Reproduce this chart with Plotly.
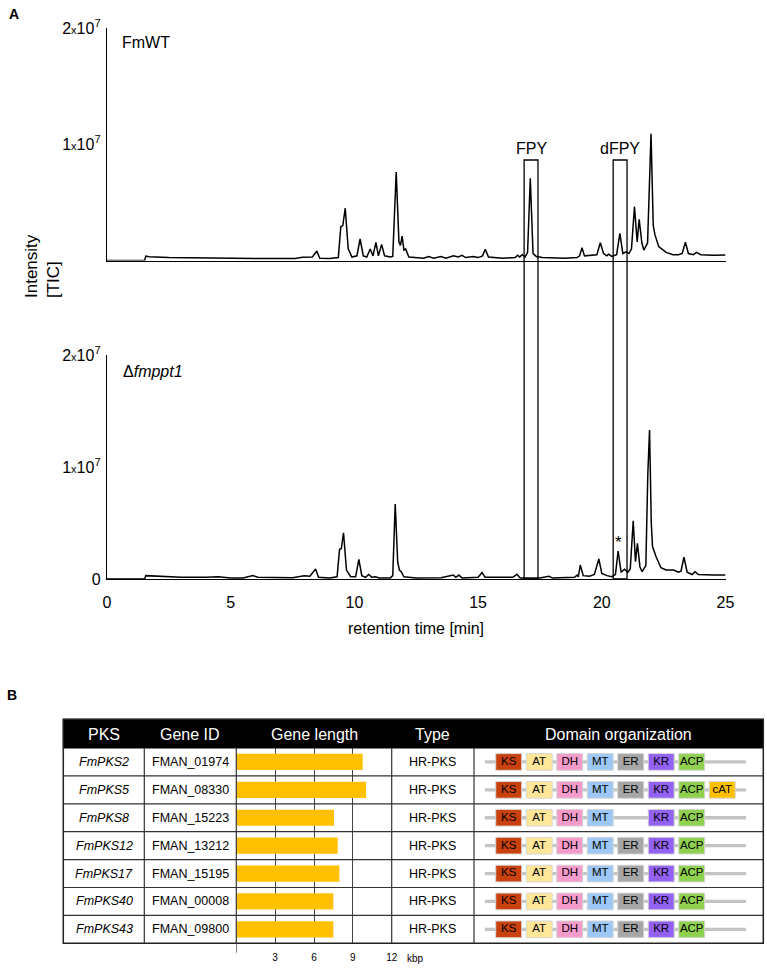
import plotly.graph_objects as go

W, H = 767, 968
def px(x): return x / W
def py(y): return 1 - y / H

FONT = "Arial, Liberation Sans, sans-serif"

# ---------------- Panel A data (intensity in units of 1e6) ----------------
wt_time = [0, 1.52, 1.57, 1.7, 2.5, 4.0, 6.0, 7.6, 7.9, 8.3, 8.48, 8.6, 9.0, 9.35, 9.45, 9.53, 9.63, 9.75,
           9.9, 10.1, 10.23, 10.36, 10.5, 10.64, 10.75, 10.87, 10.97, 11.1, 11.22, 11.45, 11.55, 11.69,
           11.8, 11.86, 11.93, 12.0, 12.07, 12.2, 12.8, 13.0, 13.2, 13.5, 13.7, 14.0, 14.2, 14.35, 14.5,
           14.8, 15.0, 15.18, 15.29, 15.42, 16.0, 16.5, 16.6, 16.68, 16.78, 16.9, 17.0, 17.11, 17.22,
           17.35, 17.6, 18.5, 19.0, 19.1, 19.2, 19.3, 19.6, 19.8, 19.94, 20.07, 20.2, 20.28, 20.4, 20.6,
           20.73, 20.85, 20.98, 21.1, 21.2, 21.32, 21.43, 21.51, 21.62, 21.7, 21.85, 21.99, 22.08, 22.15,
           22.3, 22.6, 22.88, 23.1, 23.25, 23.38, 23.5, 23.7, 23.83, 24.0, 24.5, 25.0]
wt_int = [0, 0, 0.38, 0.33, 0.25, 0.2, 0.18, 0.18, 0.28, 0.3, 0.82, 0.2, 0.18, 0.25, 2.9, 3.0, 4.5, 1.0,
          0.3, 0.4, 1.85, 0.4, 0.3, 0.99, 0.4, 1.56, 0.4, 1.39, 0.4, 0.3, 0.35, 7.6,
          1.6, 1.3, 2.1, 0.9, 1.0, 0.3, 0.2, 0.35, 0.2, 0.35, 0.2, 0.4, 0.3, 0.45, 0.25,
          0.35, 0.25, 0.4, 0.96, 0.3, 0.2, 0.25, 0.45, 0.3, 0.5, 0.3, 0.7, 7.07, 0.6,
          0.35, 0.25, 0.2, 0.25, 0.4, 1.1, 0.4, 0.45, 0.5, 1.53, 0.6, 0.4, 0.55, 0.35, 0.5,
          2.34, 0.6, 0.75, 0.6, 1.0, 4.63, 1.6, 3.54, 1.5, 0.9, 1.5, 10.9, 3.0, 2.2,
          1.2, 0.7, 0.5, 0.5, 0.6, 1.57, 0.6, 0.5, 0.7, 0.5, 0.45, 0.47]

ko_time = [0, 1.52, 1.57, 2.0, 3.0, 4.0, 4.5, 5.0, 5.5, 5.9, 6.1, 7.5, 7.97, 8.2, 8.43, 8.55, 9.0, 9.3,
           9.4, 9.47, 9.56, 9.68, 9.85, 10.05, 10.18, 10.3, 10.45, 10.58, 10.7, 10.85, 11.0, 11.45,
           11.55, 11.65, 11.75, 11.82, 11.89, 12.0, 12.5, 13.5, 14.0, 14.1, 14.22, 14.35, 15.0, 15.16,
           15.28, 16.4, 16.57, 16.7, 17.5, 17.86, 18.0, 18.9, 19.0, 19.05, 19.13, 19.25, 19.5, 19.7,
           19.88, 20.0, 20.21, 20.4, 20.55, 20.66, 20.78, 20.92, 21.05, 21.15, 21.27, 21.36, 21.44,
           21.54, 21.63, 21.78, 21.86, 21.93, 22.0, 22.05, 22.19, 22.39, 22.6, 22.9, 23.1, 23.2, 23.32,
           23.45, 23.65, 23.77, 23.9, 24.5, 25.0]
ko_int = [0, 0, 0.3, 0.25, 0.15, 0.15, 0.2, 0.1, 0.1, 0.3, 0.15, 0.12, 0.3, 0.25, 0.89, 0.15, 0.1, 0.2,
          2.65, 2.7, 4.13, 0.8, 0.2, 0.2, 1.76, 0.3, 0.15, 0.4, 0.15, 0.2, 0.1, 0.1,
          0.3, 6.7, 1.5, 0.8, 0.65, 0.2, 0.1, 0.12, 0.35, 0.15, 0.35, 0.1, 0.15, 0.57,
          0.15, 0.15, 0.42, 0.1, 0.1, 0.25, 0.1, 0.15, 0.35, 0.2, 1.25, 0.3, 0.25, 0.4,
          1.79, 0.5, 0.3, 0.2, 0.4, 2.5, 0.6, 0.87, 0.6, 0.9, 5.2, 1.55, 3.19,
          1.1, 0.65, 1.2, 9.4, 13.3, 5.0, 2.9, 2.0, 1.0, 0.8, 0.8, 0.6, 0.7, 1.94,
          0.6, 0.4, 0.65, 0.4, 0.35, 0.36]

x_ticks = [0, 5, 10, 15, 20, 25]
fpy_window = [16.86, 17.42]
dfpy_window = [20.46, 21.02]
star_time = 20.66

# ---------------- Panel B data ----------------
pks_names = ["FmPKS2", "FmPKS5", "FmPKS8", "FmPKS12", "FmPKS17", "FmPKS40", "FmPKS43"]
gene_ids = ["FMAN_01974", "FMAN_08330", "FMAN_15223", "FMAN_13212", "FMAN_15195", "FMAN_00008", "FMAN_09800"]
gene_len_kbp = [9.76, 10.02, 7.54, 7.83, 7.96, 7.49, 7.49]
pks_types = ["HR-PKS"] * 7
domain_rows = [
    ["KS", "AT", "DH", "MT", "ER", "KR", "ACP"],
    ["KS", "AT", "DH", "MT", "ER", "KR", "ACP", "cAT"],
    ["KS", "AT", "DH", "MT", None, "KR", "ACP"],
    ["KS", "AT", "DH", "MT", "ER", "KR", "ACP"],
    ["KS", "AT", "DH", "MT", "ER", "KR", "ACP"],
    ["KS", "AT", "DH", "MT", "ER", "KR", "ACP"],
    ["KS", "AT", "DH", "MT", "ER", "KR", "ACP"],
]
domain_colors = {"KS": "#C9420E", "AT": "#FFE699", "DH": "#F49BCB", "MT": "#9DC8F5",
                 "ER": "#A6A6A6", "KR": "#9461F5", "ACP": "#8FD14F", "cAT": "#FFC000"}
kbp_ticks = [3, 6, 9, 12]
headers = ["PKS", "Gene ID", "Gene length", "Type", "Domain organization"]

fig = go.Figure()

# chromatograms
fig.add_trace(go.Scatter(x=wt_time, y=wt_int, mode="lines", line=dict(color="black", width=1.5),
                         xaxis="x", yaxis="y", hoverinfo="skip"))
fig.add_trace(go.Scatter(x=ko_time, y=ko_int, mode="lines", line=dict(color="black", width=1.5),
                         xaxis="x2", yaxis="y2", hoverinfo="skip"))

rows = list(range(len(pks_names)))

# gene length bars
fig.add_trace(go.Bar(x=gene_len_kbp, y=rows, orientation="h", xaxis="x3", yaxis="y3",
                     marker=dict(color="#FFC000", line=dict(width=0), opacity=1), width=0.58))

# domain backbone
n_rows = len(domain_rows)
fig.add_trace(go.Bar(x=[8.56] * n_rows, base=[-0.78] * n_rows, y=rows, orientation="h",
                     xaxis="x4", yaxis="y4", width=0.12,
                     marker=dict(color="#C4C4C4", line=dict(width=0), opacity=1)))
# domain boxes
bx, bbase, by, bcol, tx, ty, tt = [], [], [], [], [], [], []
for r, doms in enumerate(domain_rows):
    for s, d in enumerate(doms):
        if d is None:
            continue
        bx.append(0.852); bbase.append(s - 0.426); by.append(r); bcol.append(domain_colors[d])
        tx.append(s); ty.append(r); tt.append(d)
fig.add_trace(go.Bar(x=bx, base=bbase, y=by, orientation="h", xaxis="x4", yaxis="y4", width=0.6,
                     marker=dict(color=bcol, line=dict(color="#D6D6D6", width=1), opacity=1)))
fig.add_trace(go.Scatter(x=tx, y=ty, text=tt, mode="text", xaxis="x4", yaxis="y4",
                         textfont=dict(family=FONT, size=11.5, color="black"), textposition="middle center"))

ax_common = dict(showgrid=False, zeroline=False, ticks="", color="black")
ytxt = lambda v: f"{v}<span style='font-size:11px'>x</span>10<sup>7</sup>"

fig.update_layout(
    autosize=True, margin=dict(l=0, r=0, t=0, b=0, autoexpand=False),
    paper_bgcolor="white", plot_bgcolor="rgba(0,0,0,0)", showlegend=False, barmode="overlay",
    font=dict(family=FONT, color="black"),
    xaxis=dict(domain=[px(107), px(725.5)], range=[0, 25], anchor="y", showline=True, linecolor="black",
               linewidth=1.3, showticklabels=False, **ax_common),
    yaxis=dict(domain=[py(260.5), py(28)], range=[0, 20], anchor="x", showline=True, linecolor="black",
               linewidth=1.3, tickvals=[10, 20], ticktext=[ytxt(1), ytxt(2)],
               tickfont=dict(size=16), ticklabelstandoff=2, **ax_common),
    xaxis2=dict(domain=[px(107), px(725.5)], range=[0, 25], anchor="y2", showline=True, linecolor="black",
                linewidth=1.3, tickvals=x_ticks, tickfont=dict(size=16), ticklabelstandoff=9, **ax_common),
    yaxis2=dict(domain=[py(579), py(355)], range=[0, 20], anchor="x2", showline=True, linecolor="black",
                linewidth=1.3, tickvals=[0, 10, 20], ticktext=["0", ytxt(1), ytxt(2)],
                tickfont=dict(size=16), ticklabelstandoff=2, **ax_common),
    xaxis3=dict(domain=[px(236.3), px(391.7)], range=[0, 12], anchor="y3", showline=False,
                zeroline=False, showgrid=True, gridcolor="#444444", gridwidth=1, tickvals=kbp_ticks,
                ticks="", tickfont=dict(size=10), ticklabelstandoff=7),
    yaxis3=dict(domain=[py(943.3), py(748)], range=[6.5, -0.5], anchor="x3", visible=False),
    xaxis4=dict(domain=[px(474), px(763.3)], range=[-1.138, 8.347], anchor="y4", visible=False),
    yaxis4=dict(domain=[py(943.3), py(748)], range=[6.5, -0.5], anchor="x4", visible=False),
)

shapes = []
# FPY / dFPY windows
for win in (fpy_window, dfpy_window):
    shapes.append(dict(type="rect", xref="x", yref="paper", x0=win[0], x1=win[1], y0=py(579), y1=py(160),
                       line=dict(color="black", width=1.3), fillcolor="rgba(0,0,0,0)"))

# table
TL, TR = px(63.3), px(763.3)
shapes.append(dict(type="rect", xref="paper", yref="paper", x0=TL, x1=TR, y0=py(748), y1=py(719.3),
                   fillcolor="black", line=dict(color="black", width=1)))
for r in rows[:-1]:
    shapes.append(dict(type="line", xref="paper", yref="y3", x0=TL, x1=TR, y0=r + 0.5, y1=r + 0.5,
                       line=dict(color="#333333", width=1.2)))
for xv in (144.3, 236.3, 391.7, 474):
    shapes.append(dict(type="line", xref="paper", yref="paper", x0=px(xv), x1=px(xv), y0=py(943.3), y1=py(748),
                       line=dict(color="#333333", width=1.2)))
shapes.append(dict(type="rect", xref="paper", yref="paper", x0=TL, x1=TR, y0=py(943.3), y1=py(719.3),
                   line=dict(color="#222222", width=1.5), fillcolor="rgba(0,0,0,0)"))
shapes.append(dict(type="line", xref="x3", yref="paper", x0=0, x1=0, y0=py(952.7), y1=py(943.3),
                   line=dict(color="#333333", width=1.2)))
fig.update_layout(shapes=shapes)

ann = []
def A(x, y, text, size=16, **kw):
    d = dict(x=x, y=y, xref=kw.pop("xref", "paper"), yref=kw.pop("yref", "paper"), text=text, showarrow=False,
             font=dict(family=FONT, size=size, color=kw.pop("color", "black")),
             xanchor=kw.pop("xanchor", "center"), yanchor=kw.pop("yanchor", "middle"))
    d.update(kw)
    ann.append(d)

A(px(14), py(14), "<b>A</b>", size=14)
A(px(12), py(695), "<b>B</b>", size=14)
A(px(120), py(43), "FmWT", xanchor="left")
A(px(121), py(371), "Δ<i>fmppt1</i>", xanchor="left")
A(px(416), py(628), "retention time [min]")
A(px(43), py(266), "Intensity<br>[TIC]", size=17, textangle=-90, align="left")
A(sum(fpy_window) / 2, py(148), "FPY", xref="x")
A(sum(dfpy_window) / 2, py(148), "dFPY", xref="x")
A(star_time, py(542), "*", size=17, xref="x2")
A(px(415), py(958.3), "kbp", size=10)

hdr_x = [104, 190.3, 314, 433, 618.6]
for hx, h in zip(hdr_x, headers):
    A(px(hx), py(734), h, size=16, color="white")
for r in rows:
    for hx, txt in ((104, f"<i>{pks_names[r]}</i>"), (190.3, gene_ids[r]), (433, pks_types[r])):
        A(px(hx), r, txt, size=12.5, yref="y3")
fig.update_layout(annotations=ann)

fig.write_html("out.html", default_width="100vw", default_height="100vh",
               config={"displayModeBar": False, "responsive": True},
               post_script="document.body.style.margin='0px';document.body.style.overflow='hidden';"
                           "document.documentElement.style.overflow='hidden';"
                           "Plotly.Plots.resize(document.getElementById('{plot_id}'));")
